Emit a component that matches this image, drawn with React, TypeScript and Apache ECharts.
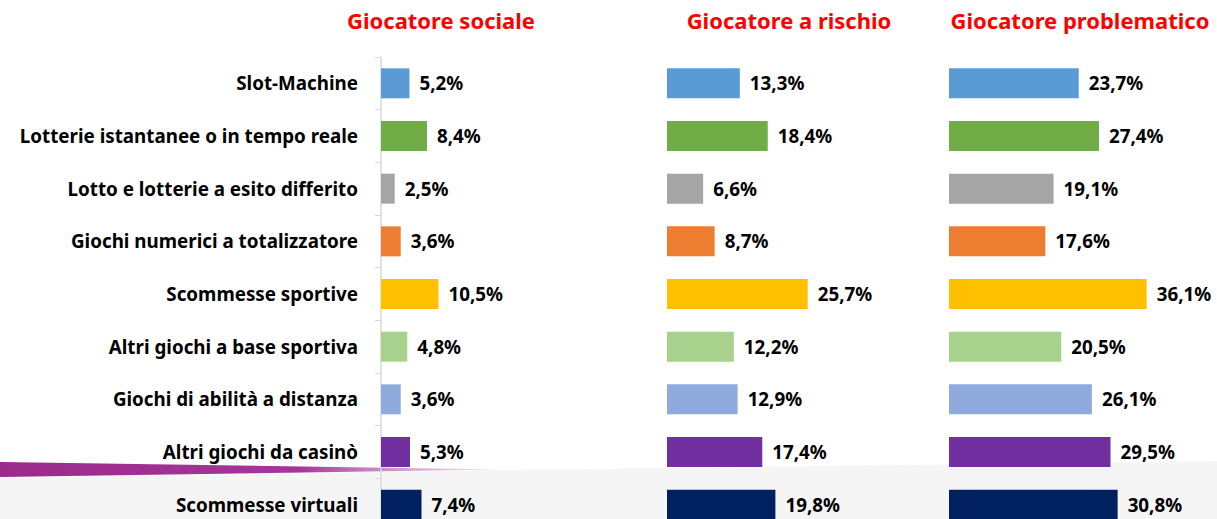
import React, { useEffect, useRef } from "react";
import * as echarts from "echarts";

const categories = [
  "Slot-Machine",
  "Lotterie istantanee o in tempo reale",
  "Lotto e lotterie a esito differito",
  "Giochi numerici a totalizzatore",
  "Scommesse sportive",
  "Altri giochi a base sportiva",
  "Giochi di abilità a distanza",
  "Altri giochi da casinò",
  "Scommesse virtuali",
];
const panelTitles = ["Giocatore sociale", "Giocatore a rischio", "Giocatore problematico"];
const sociale = [5.2, 8.4, 2.5, 3.6, 10.5, 4.8, 3.6, 5.3, 7.4];
const rischio = [13.3, 18.4, 6.6, 8.7, 25.7, 12.2, 12.9, 17.4, 19.8];
const problematico = [23.7, 27.4, 19.1, 17.6, 36.1, 20.5, 26.1, 29.5, 30.8];
const barColors = ["#5B9BD5", "#70AD47", "#A5A5A5", "#ED7D31", "#FFC000", "#A9D18E", "#8FAADC", "#7030A0", "#002060"];

const FONT = "'Noto Sans', sans-serif";

export default function App() {
  const ref = useRef<HTMLDivElement>(null);
  useEffect(() => {
    if (!ref.current) return;
    const chart = echarts.init(ref.current, null, { renderer: "svg" });
    const lefts = [381, 667, 949];
    const titleCenters = [436, 784, 1075];
    const all = [sociale, rischio, problematico];
    const option: any = {
      animation: false,
      backgroundColor: "transparent",
      title: panelTitles.map((t, i) => ({
        text: t,
        left: titleCenters[i],
        top: 4,
        textAlign: "center",
        textStyle: { color: "#FF0000", fontWeight: "bold", fontSize: 22, fontFamily: FONT },
      })),
      graphic: [
        {
          type: "polygon",
          z: -10,
          shape: { points: [[0, 478], [500, 470], [1217, 461], [1217, 560], [0, 560]] },
          style: { fill: "#F5F5F5" },
        },
        {
          type: "polygon",
          z: -5,
          shape: { points: [[0, 462], [500, 469.5], [0, 477]] },
          style: {
            fill: new echarts.graphic.LinearGradient(0, 0, 1, 0, [
              { offset: 0, color: "#9B2A8A" },
              { offset: 0.6, color: "#A3379A" },
              { offset: 1, color: "rgba(200,150,200,0.3)" },
            ]),
          },
        },
      ],
      grid: lefts.map((l) => ({ left: l, width: 219, top: 57, height: 474 })),
      xAxis: lefts.map((_, i) => ({
        type: "value",
        gridIndex: i,
        min: 0,
        max: 40,
        show: false,
      })),
      yAxis: lefts.map((_, i) => ({
        type: "category",
        gridIndex: i,
        inverse: true,
        data: categories,
        show: i === 0,
        axisLine: { show: true, lineStyle: { color: "#D9D9D9", width: 1.5 } },
        axisTick: { show: true, length: 6, lineStyle: { color: "#D9D9D9" } },
        axisLabel: {
          margin: 23,
          color: "#000",
          fontWeight: "bold",
          fontSize: 18.8,
          fontFamily: FONT,
        },
      })),
      series: all.map((d, i) => ({
        type: "bar",
        xAxisIndex: i,
        yAxisIndex: i,
        data: d,
        barWidth: 30,
        itemStyle: { color: (p: any) => barColors[p.dataIndex] },
        label: {
          show: true,
          position: "right",
          distance: 10,
          color: "#000",
          fontWeight: "bold",
          fontSize: 18.8,
          fontFamily: FONT,
          formatter: (p: any) => p.value.toFixed(1).replace(".", ",") + "%",
        },
      })),
    };
    chart.setOption(option);
    return () => chart.dispose();
  }, []);
  return (
    <div
      ref={ref}
      style={{ position: "fixed", left: 0, top: 0, width: 1217, height: 560, background: "#fff" }}
    />
  );
}
